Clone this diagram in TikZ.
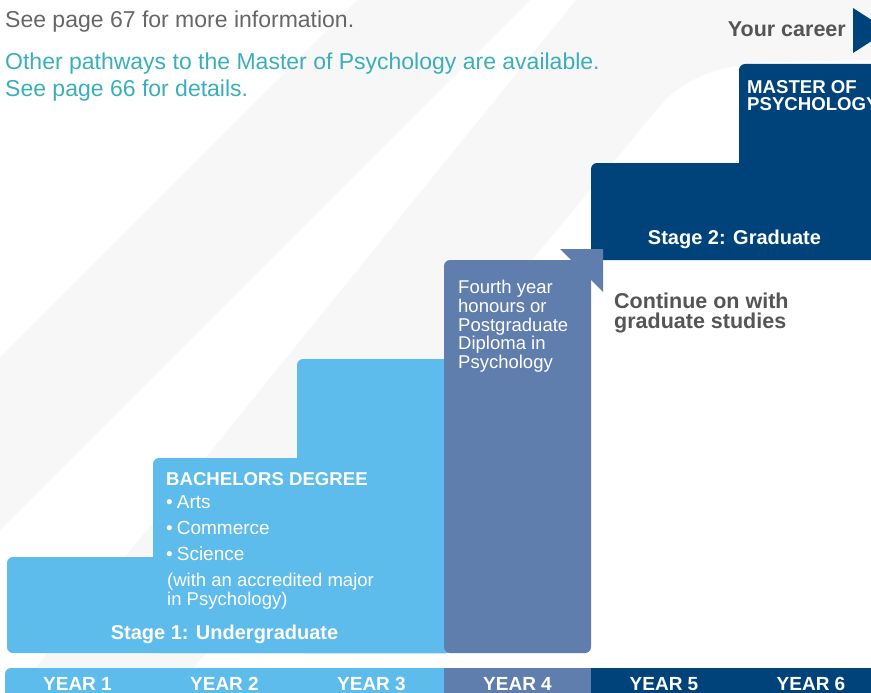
\documentclass[tikz,border=0pt]{standalone}
\usepackage{fontspec}
\setmainfont{Liberation Sans}
\definecolor{lblue}{HTML}{5DBCEB}
\definecolor{slate}{HTML}{607EAD}
\definecolor{navy}{HTML}{00437A}
\definecolor{bgstripe}{HTML}{F7F7F7}
\definecolor{tealtxt}{HTML}{3AAFB9}
\definecolor{graytxt}{HTML}{666666}
\definecolor{darktxt}{HTML}{555555}
\newcommand{\myfs}[1]{\fontsize{#1pt}{#1pt}\selectfont}
\tikzset{
  txt/.style={inner sep=0pt, anchor=base west, text=white},
  ctxt/.style={inner sep=0pt, anchor=base, text=white},
  lighttxt/.style={txt, font=\myfs{18.5}},
  boldtxt/.style={txt, font=\bfseries\myfs{18.6}},
  yeartxt/.style={ctxt, font=\bfseries\myfs{19}},
  stagetxt/.style={ctxt, font=\bfseries\myfs{20}},
  steps/.style={rounded corners=6pt}
}
\begin{document}
\begin{tikzpicture}[x=1pt,y=-1pt]
\useasboundingbox (0,0) rectangle (871,693);
\clip (0,0) rectangle (871,693);
% background stripes
\fill[bgstripe] (357,0) -- (530,0) -- (0,530) -- (0,357) -- cycle;
\fill[bgstripe] (576,0) -- (871,0) -- (871,60) -- (780,62)
  .. controls (740,62) and (690,70) .. (659,107) -- (173,693) -- (15,693) -- cycle;
% stage 1 (light blue stairs)
\fill[lblue, steps] (7,557) rectangle (452,653);
\fill[lblue, steps] (153,458) rectangle (452,653);
\fill[lblue, steps] (297,359) rectangle (452,653);
% stage 2 (navy)
\fill[navy, steps] (591,163) rectangle (885,260);
\fill[navy, steps] (739,64) rectangle (885,170);
% year 4 box with arrow corner
\fill[slate, steps] (444,260) rectangle (591,653);
\fill[slate] (560,249) -- (603,249) -- (603,292) -- cycle;
% year bar
\fill[lblue, steps] (5,668) rectangle (452,710);
\fill[slate] (444,668) rectangle (591,710);
\fill[navy] (591,668) rectangle (885,710);
% career arrow
\fill[navy] (853,8) -- (888,30.5) -- (853,53) -- cycle;

% texts
\node[txt, text=graytxt, font=\myfs{23}] (info) at (5,28) {See page 67 for more information.};
\node[txt, text=tealtxt, font=\myfs{23}] (other1) at (5,70) {Other pathways to the Master of Psychology are available.};
\node[txt, text=tealtxt, font=\myfs{23}] (other2) at (5,97) {See page 66 for details.};
\node[inner sep=0pt, anchor=base east, text=darktxt, font=\bfseries\myfs{21.5}] (career) at (846,37) {Your career};

\node[boldtxt] (master1) at (747,93.5) {MASTER OF};
\node[boldtxt] (master2) at (747,110.5) {PSYCHOLOGY};
\node[stagetxt] (stage2) at (734.5,244) {Stage 2: Graduate};

\node[txt, text=darktxt, font=\bfseries\myfs{21.5}] (cont1) at (614,308.5) {Continue on with};
\node[txt, text=darktxt, font=\bfseries\myfs{21.5}] (cont2) at (614,328) {graduate studies};

\node[lighttxt] (fy1) at (458,293) {Fourth year};
\node[lighttxt] (fy2) at (458,312) {honours or};
\node[lighttxt] (fy3) at (458,331) {Postgraduate};
\node[lighttxt] (fy4) at (458,349.5) {Diploma in};
\node[lighttxt] (fy5) at (458,368) {Psychology};

\node[boldtxt] (bach) at (166,485) {BACHELORS DEGREE};
\node[txt, font=\myfs{19}] (arts) at (166,508) {\textbullet\hspace{4pt}Arts};
\node[txt, font=\myfs{19}] (comm) at (166,534) {\textbullet\hspace{4pt}Commerce};
\node[txt, font=\myfs{19}] (sci) at (166,560) {\textbullet\hspace{4pt}Science};
\node[lighttxt] (with1) at (167,586) {(with an accredited major};
\node[lighttxt] (with2) at (167,605) {in Psychology)};
\node[stagetxt] (stage1) at (224.5,639) {Stage 1: Undergraduate};

\node[yeartxt] (y1) at (77.5,690.5) {YEAR 1};
\node[yeartxt] (y2) at (224.5,690.5) {YEAR 2};
\node[yeartxt] (y3) at (371.5,690.5) {YEAR 3};
\node[yeartxt] (y4) at (517.5,690.5) {YEAR 4};
\node[yeartxt] (y5) at (664,690.5) {YEAR 5};
\node[yeartxt] (y6) at (811,690.5) {YEAR 6};
\end{tikzpicture}
\end{document}
